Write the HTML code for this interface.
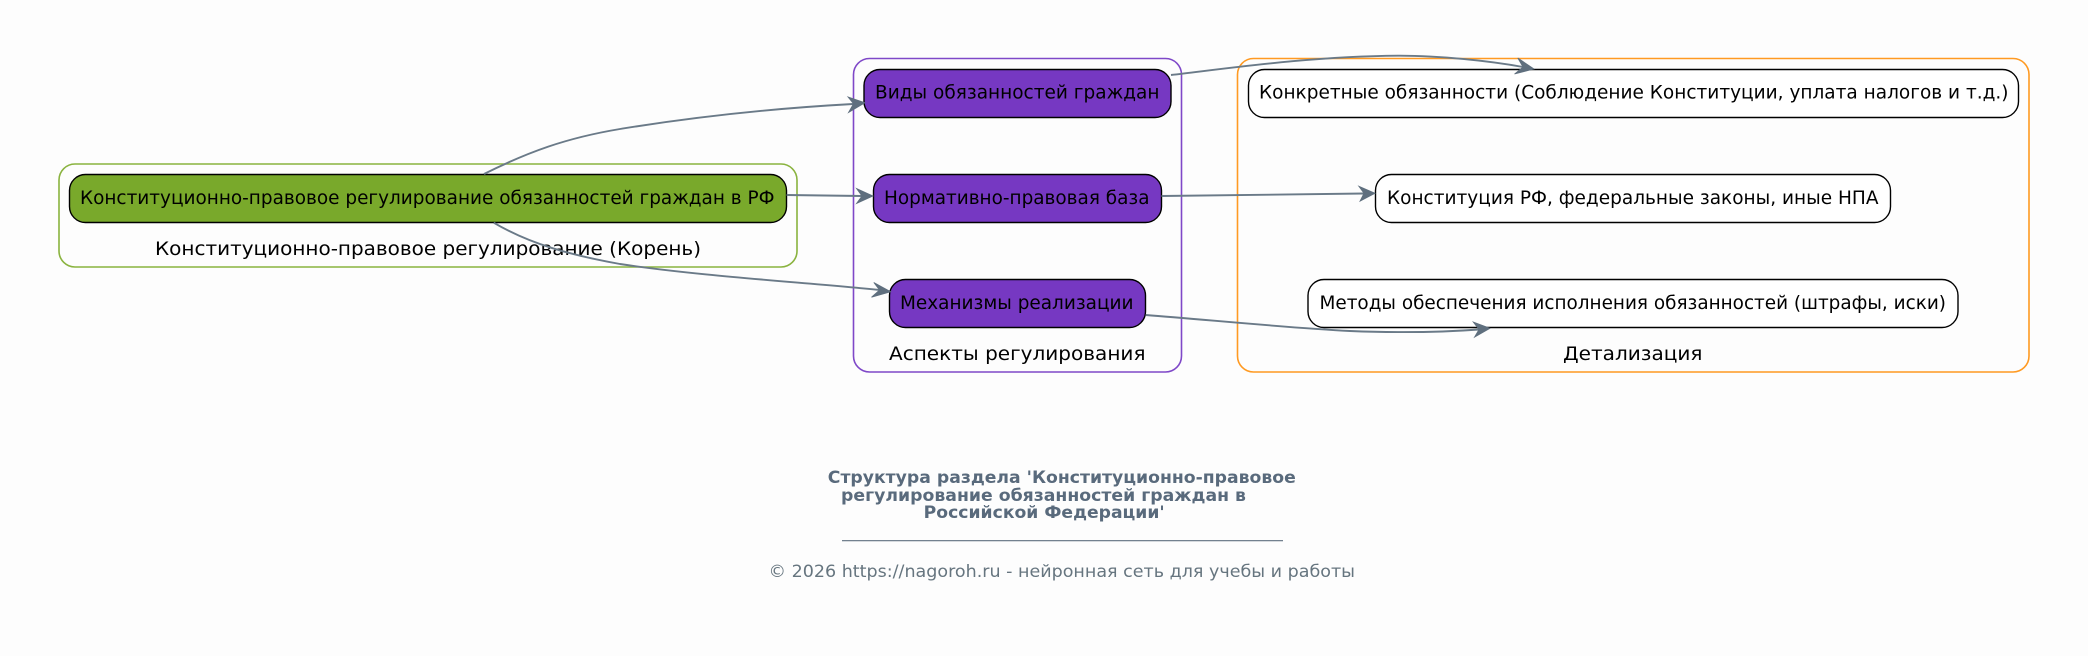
<!DOCTYPE html>
<html lang="ru">
<head>
<meta charset="utf-8">
<title>Структура раздела</title>
<style>
html,body{margin:0;padding:0;background:#fdfdfd;width:2088px;height:656px;overflow:hidden}
svg{display:block}
text{font-family:"DejaVu Sans","Liberation Sans",sans-serif;font-size:19px;fill:#000}
.c{fill:none;stroke-width:1.6}
.n{stroke:#000;stroke-width:1.4}
.e{fill:none;stroke:#6a7a88;stroke-width:1.9}
.a{fill:#5f6f7e;stroke:#5f6f7e;stroke-width:.8;stroke-linejoin:miter}
.t{font-size:16.6px;font-weight:bold;fill:#596a7c}
.f{font-size:16.6px;fill:#66757f}
</style>
</head>
<body>
<svg width="2088" height="656" viewBox="0 0 2088 656" xmlns="http://www.w3.org/2000/svg">
<rect x="0" y="0" width="2088" height="656" fill="#fdfdfd"/>

<rect class="c" x="59" y="164" width="738" height="103" rx="16" ry="16" fill="none" stroke="#8ab33f"/>
<rect class="c" x="853.5" y="58.5" width="328" height="313.5" rx="16" ry="16" stroke="#7f48c8"/>
<rect class="c" x="1237.5" y="58.5" width="791.5" height="313.5" rx="16" ry="16" stroke="#ff9a22"/>

<rect class="n" x="69.5" y="174.5" width="717" height="48" rx="16" ry="16" fill="#79a92b"/>
<rect class="n" x="864" y="69.5" width="307" height="48" rx="16" ry="16" fill="#7638c2"/>
<rect class="n" x="873.5" y="174.5" width="288" height="48" rx="16" ry="16" fill="#7638c2"/>
<rect class="n" x="889.5" y="279.5" width="256" height="48" rx="16" ry="16" fill="#7638c2"/>
<rect class="n" x="1248.5" y="69.5" width="770" height="48" rx="16" ry="16" fill="#fff"/>
<rect class="n" x="1375.5" y="174.5" width="515" height="48" rx="16" ry="16" fill="#fff"/>
<rect class="n" x="1308" y="279.5" width="650" height="48" rx="16" ry="16" fill="#fff"/>

<text x="80" y="204" textLength="694.5" lengthAdjust="spacingAndGlyphs">Конституционно-правовое регулирование обязанностей граждан в РФ</text>
<text x="155" y="255" textLength="546" lengthAdjust="spacingAndGlyphs">Конституционно-правовое регулирование (Корень)</text>
<text x="875" y="98.5" textLength="284.5" lengthAdjust="spacingAndGlyphs">Виды обязанностей граждан</text>
<text x="884" y="204" textLength="265.5" lengthAdjust="spacingAndGlyphs">Нормативно-правовая база</text>
<text x="900" y="309" textLength="233.5" lengthAdjust="spacingAndGlyphs">Механизмы реализации</text>
<text x="889" y="360" textLength="256.5" lengthAdjust="spacingAndGlyphs">Аспекты регулирования</text>
<text x="1259" y="98.5" textLength="749.5" lengthAdjust="spacingAndGlyphs">Конкретные обязанности (Соблюдение Конституции, уплата налогов и т.д.)</text>
<text x="1387" y="204" textLength="491.5" lengthAdjust="spacingAndGlyphs">Конституция РФ, федеральные законы, иные НПА</text>
<text x="1319.5" y="309" textLength="626.5" lengthAdjust="spacingAndGlyphs">Методы обеспечения исполнения обязанностей (штрафы, иски)</text>
<text x="1563" y="360" textLength="139.5" lengthAdjust="spacingAndGlyphs">Детализация</text>

<path class="e" d="M484,174 C528,152 566,138 620,129 C700,116 780,108 853,104"/>
<path class="a" d="M865,102.7 L848,97 L853.5,103.7 L848.5,112.5 Z"/>

<path class="e" d="M786.6,195 L862,196"/>
<path class="a" d="M873,196 L856.5,188.5 L862,196 L856.5,203.5 Z"/>

<path class="e" d="M493.7,222.7 C530,244 570,255 620,264 C700,276 800,282 880,290"/>
<path class="a" d="M890.7,291.7 L873.8,282.5 L879.5,290 L871.5,297.2 Z"/>

<path class="e" d="M1171,75 C1220,69.5 1310,56 1400,55.7 C1440,55.7 1490,61 1523,67"/>
<path class="a" d="M1534,69 L1517.8,58 L1523,67 L1514.5,74 Z"/>

<path class="e" d="M1161.5,196 L1364,193.5"/>
<path class="a" d="M1375,193.3 L1358.8,186.2 L1364,193.2 L1360,201.2 Z"/>

<path class="e" d="M1145.7,315 C1210,320 1290,328 1350,331 C1400,333 1445,332 1479,329.5"/>
<path class="a" d="M1490,328.3 L1473.2,322 L1479,329.5 L1474.5,337.2 Z"/>

<text class="t" x="827.8" y="483" textLength="468" lengthAdjust="spacingAndGlyphs">Структура раздела 'Конституционно-правовое</text>
<text class="t" x="841" y="501" textLength="405" lengthAdjust="spacingAndGlyphs">регулирование обязанностей граждан в</text>
<text class="t" x="923.7" y="518" textLength="241" lengthAdjust="spacingAndGlyphs">Российской Федерации'</text>
<line x1="842" y1="540.7" x2="1283" y2="540.7" stroke="#5f6f7f" stroke-width="1.2"/>
<text class="f" x="768.5" y="577" textLength="586.5" lengthAdjust="spacingAndGlyphs">© 2026 https://nagoroh.ru - нейронная сеть для учебы и работы</text>
</svg>
</body>
</html>
